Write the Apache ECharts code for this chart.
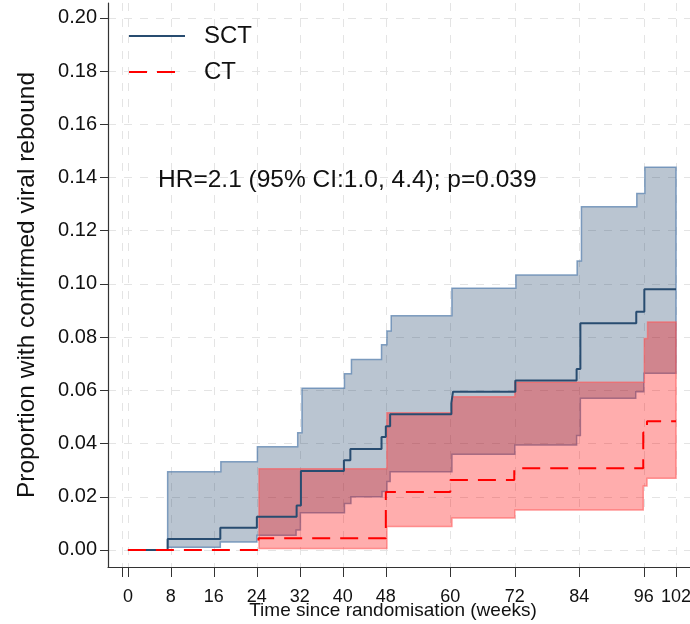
<!DOCTYPE html>
<html><head><meta charset="utf-8">
<script src="https://cdn.jsdelivr.net/npm/echarts@6/dist/echarts.min.js"></script>
<style>html,body{margin:0;padding:0;background:#fff}#c{width:690px;height:624px}</style>
</head><body><div id="c"></div>
<script>
// ---- tick values ----
const xTickLabels = [0, 8, 16, 24, 32, 40, 48, 60, 72, 84, 96, 102];
const xTickMarks = [-1, 0, 8, 16, 24, 32, 40, 48, 60, 72, 84, 96, 102];
const yTicks = [0, 0.02, 0.04, 0.06, 0.08, 0.10, 0.12, 0.14, 0.16, 0.18, 0.20];

// ---- SCT (Kaplan-Meier estimate and 95% band), change points ----
const sctLineX = [0, 7.4, 17.2, 24, 31.4, 32.2, 40.2, 41.4, 47.2, 48, 48.8, 60.2, 60.5, 72.1, 83.5, 84.2, 94.6, 96.1, 102];
const sctLineY = [0, 0.0041, 0.0084, 0.0125, 0.0167, 0.0297, 0.0337, 0.038, 0.0425, 0.0465, 0.051, 0.0553, 0.0595, 0.0637, 0.068, 0.0852, 0.0895, 0.098, 0.098];
const sctUpX = [7.4, 17.3, 24.1, 31.6, 32.4, 40.3, 41.6, 47.2, 48.2, 49, 60.3, 72.2, 83.6, 84.4, 94.7, 96.2, 102];
const sctUpY = [0.0294, 0.0332, 0.0388, 0.0441, 0.0608, 0.0662, 0.0716, 0.0771, 0.0823, 0.088, 0.0984, 0.1034, 0.1086, 0.129, 0.134, 0.1439, 0.1439];
const sctLoX = [7.4, 17.2, 24, 31.3, 32.1, 40.3, 41.5, 47.3, 48.2, 48.8, 60.3, 72, 83.5, 84.2, 94.5, 96, 102];
const sctLoY = [0.001, 0.003, 0.0055, 0.0075, 0.014, 0.0175, 0.020, 0.022, 0.0257, 0.0294, 0.036, 0.0395, 0.043, 0.057, 0.0595, 0.0664, 0.0664];

// ---- CT ----
const ctLineX = [0, 24.3, 48, 60, 71.9, 95.9, 96.6, 102];
const ctLineY = [0, 0.0044, 0.0218, 0.0263, 0.0307, 0.0442, 0.0484, 0.0484];
const ctUpX = [24.4, 48.2, 60.3, 72, 96.1, 96.7, 102];
const ctUpY = [0.0305, 0.0516, 0.0576, 0.063, 0.0795, 0.0857, 0.0857];
const ctLoX = [24.4, 48.2, 60.3, 72, 95.9, 96.6, 102];
const ctLoY = [0.0006, 0.0088, 0.012, 0.015, 0.024, 0.027, 0.027];

const annotation = 'HR=2.1 (95% CI:1.0, 4.4); p=0.039';
const xTitle = 'Time since randomisation (weeks)';
const yTitle = 'Proportion with confirmed viral rebound';
const FONT = '"Liberation Sans", Arial, Helvetica, sans-serif';

function zip(xs, ys) { return xs.map((x, i) => [x, ys[i]]); }

function stepPoints(api, xs, ys) {
  const pts = [];
  for (let i = 0; i < xs.length; i++) {
    pts.push(api.coord([xs[i], ys[i]]));
    if (i < xs.length - 1) pts.push(api.coord([xs[i + 1], ys[i]]));
  }
  return pts;
}

function bandSeries(name, upX, upY, loX, loY, fill, stroke, z) {
  return {
    type: 'custom',
    name: name,
    z: z,
    silent: true,
    data: [[upX[0], upY[0]]],
    renderItem: function (params, api) {
      const up = stepPoints(api, upX, upY);
      const lo = stepPoints(api, loX, loY).reverse();
      return {
        type: 'polygon',
        shape: { points: up.concat(lo) },
        style: { fill: fill, stroke: stroke, lineWidth: 1.5 }
      };
    }
  };
}

const chart = echarts.init(document.getElementById('c'), null, { renderer: 'canvas' });
chart.setOption({
  animation: false,
  backgroundColor: '#ffffff',
  textStyle: { fontFamily: FONT },
  grid: { left: 108, top: 3, width: 582, height: 564, containLabel: false, outerBoundsMode: 'none' },
  title: [
    {
      text: annotation,
      left: 153, top: 163,
      textStyle: { fontFamily: FONT, fontSize: 24.5, fontWeight: 'normal', color: '#111' }
    },
    {
      text: xTitle,
      left: 388, top: 596, textAlign: 'center',
      textStyle: { fontFamily: FONT, fontSize: 19, fontWeight: 'normal', color: '#111' }
    }
  ],
  legend: {
    data: ['SCT', 'CT'],
    orient: 'vertical',
    left: 128, top: 24, padding: 0,
    itemWidth: 56, itemHeight: 24, itemGap: 12,
    itemStyle: { opacity: 0 },
    textStyle: { fontFamily: FONT, fontSize: 24, color: '#111', padding: [0, 0, 0, 14] }
  },
  xAxis: {
    type: 'value',
    min: -3.7, max: 104.6,
    axisLine: { show: true, onZero: false, lineStyle: { color: '#333', width: 1.2 } },
    axisTick: { show: true, length: 10, customValues: xTickMarks, lineStyle: { color: '#333' } },
    axisLabel: { customValues: xTickLabels, margin: 21, fontSize: 18, color: '#111', fontFamily: FONT },
    splitLine: { show: true, lineStyle: { color: '#e4e4e4', type: [8, 8], width: 1 } }
  },
  yAxis: {
    type: 'value',
    min: -0.0064, max: 0.2056,
    name: yTitle,
    nameLocation: 'middle', nameGap: 68, nameMoveOverlap: false,
    nameTextStyle: { fontFamily: FONT, fontSize: 24.5, color: '#111' },
    axisLine: { show: true, onZero: false, lineStyle: { color: '#333', width: 1.2 } },
    axisTick: { show: true, length: 8, customValues: yTicks, lineStyle: { color: '#333' } },
    axisLabel: { customValues: yTicks, margin: 11, fontSize: 20, color: '#111', fontFamily: FONT,
      formatter: v => v.toFixed(2) },
    splitLine: { show: true, lineStyle: { color: '#e4e4e4', type: [8, 8], width: 1 } }
  },
  series: [
    bandSeries('SCT band', sctUpX, sctUpY, sctLoX, sctLoY, 'rgba(40,76,112,0.32)', 'rgba(90,130,175,0.75)', 1),
    bandSeries('CT band', ctUpX, ctUpY, ctLoX, ctLoY, 'rgba(255,0,0,0.32)', 'rgba(255,90,90,0.6)', 2),
    {
      type: 'line', name: 'SCT', step: 'end', symbol: 'none', z: 4,
      data: zip(sctLineX, sctLineY),
      itemStyle: { color: '#284c70' },
      lineStyle: { color: '#284c70', width: 2 }
    },
    {
      type: 'line', name: 'CT', step: 'end', symbol: 'none', z: 5,
      data: zip(ctLineX, ctLineY),
      itemStyle: { color: '#ff0000' },
      lineStyle: { color: '#ff0000', width: 2, type: [18, 10] }
    }
  ]
});
</script></body></html>
